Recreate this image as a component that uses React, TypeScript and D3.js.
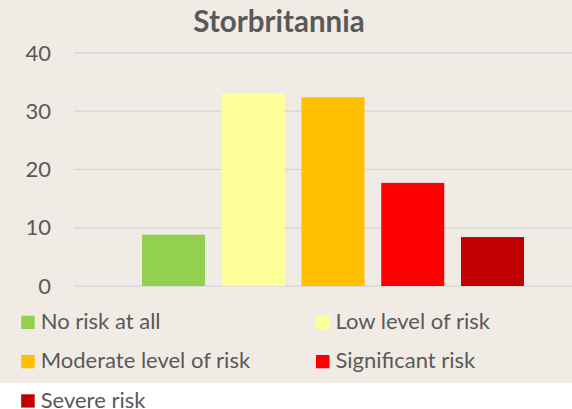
import { useEffect, useRef } from 'react';
import * as d3 from 'd3';

const categories = ['No risk at all', 'Low level of risk', 'Moderate level of risk', 'Significant risk', 'Severe risk'];
const values = [8.8, 33.1, 32.4, 17.7, 8.4];
const colors = ['#92D050', '#FFFF99', '#FFC000', '#FF0000', '#C00000'];
const yTicks = [0, 10, 20, 30, 40];

const W = 572;
const H = 409;
const FONT = 'Lato, "Noto Sans", sans-serif';

export default function App() {
    const ref = useRef<SVGSVGElement | null>(null);

    useEffect(() => {
        if (!ref.current) return;
        const svg = d3.select(ref.current);
        svg.selectAll('*').remove();

        // beige chart area, white strip below it
        svg.append('rect').attr('width', W).attr('height', H).attr('fill', '#ffffff');
        svg.append('rect').attr('width', W).attr('height', 383).attr('fill', '#F0ECE5');

        const y = d3.scaleLinear().domain([0, 40]).range([286, 53]);
        const x = d3.scaleBand<string>()
            .domain(categories)
            .range([142, 524])
            .paddingInner(0.21)
            .paddingOuter(0);

        // title
        svg.append('text')
            .attr('x', 279)
            .attr('y', 31.5)
            .attr('text-anchor', 'middle')
            .attr('font-family', FONT)
            .attr('font-weight', 'bold')
            .attr('font-size', '29.5px')
            .attr('fill', '#595959')
            .text('Storbritannia');

        // gridlines
        svg.append('g')
            .selectAll('line')
            .data(yTicks)
            .enter()
            .append('line')
            .attr('x1', 74)
            .attr('x2', W)
            .attr('y1', d => y(d))
            .attr('y2', d => y(d))
            .attr('stroke', '#D9D9D9')
            .attr('stroke-width', 1.5);

        // y labels
        svg.append('g')
            .selectAll('text')
            .data(yTicks)
            .enter()
            .append('text')
            .attr('x', 51)
            .attr('y', d => y(d) + 7.5)
            .attr('text-anchor', 'end')
            .attr('font-family', FONT)
            .attr('font-size', '22px')
            .attr('fill', '#595959')
            .text(d => d);

        // bars
        svg.append('g')
            .selectAll('rect')
            .data(values)
            .enter()
            .append('rect')
            .attr('x', (d, i) => x(categories[i]) as number)
            .attr('y', d => y(d))
            .attr('width', x.bandwidth())
            .attr('height', d => y(0) - y(d))
            .attr('fill', (d, i) => colors[i]);

        // legend, two columns
        const legend = svg.append('g')
            .selectAll('g')
            .data(categories)
            .enter()
            .append('g')
            .attr('transform', (d, i) => `translate(${i % 2 === 0 ? 21.2 : 316}, ${315.7 + Math.floor(i / 2) * 39.3})`);

        legend.append('rect')
            .attr('width', 13.5)
            .attr('height', 13.3)
            .attr('fill', (d, i) => colors[i]);

        legend.append('text')
            .attr('x', 19.5)
            .attr('y', 13.3)
            .attr('font-family', FONT)
            .attr('font-size', '22px')
            .attr('fill', '#595959')
            .text(d => d);
    }, []);

    return (
        <svg
            ref={ref}
            width={W}
            height={H}
            style={{ position: 'absolute', left: 0, top: 0, display: 'block' }}
        />
    );
}
